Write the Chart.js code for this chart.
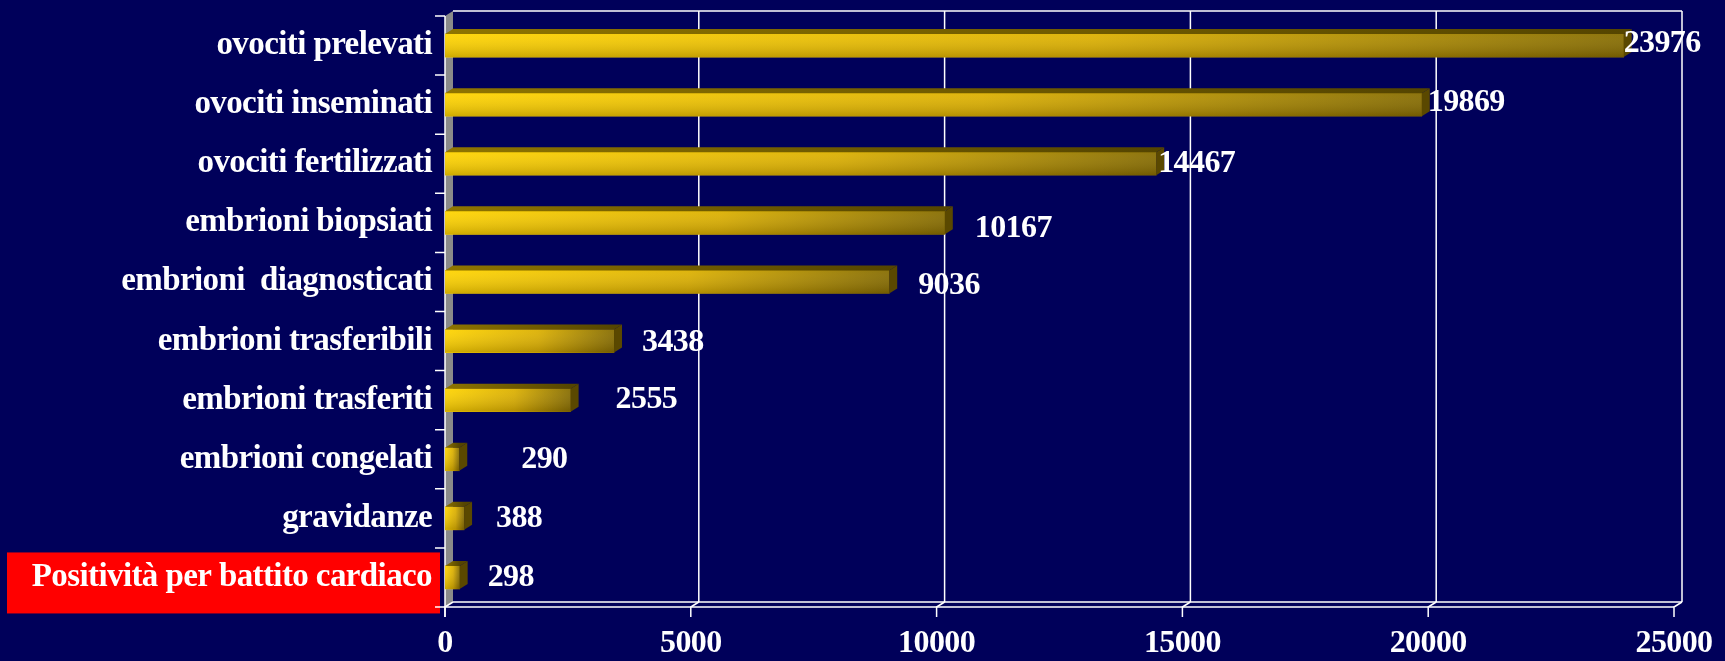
<!DOCTYPE html>
<html>
<head>
<meta charset="utf-8">
<script src="https://cdn.jsdelivr.net/npm/chart.js@4/dist/chart.umd.min.js"></script>
<style>
    html, body { margin: 0; padding: 0; background: #00005a; }
    #wrap { width: 1725px; height: 661px; }
</style>
</head>
<body>
<div id="wrap"><canvas id="myChart" width="1725" height="661"></canvas></div>
<script>
const categories = [
    "ovociti prelevati",
    "ovociti inseminati",
    "ovociti fertilizzati",
    "embrioni biopsiati",
    "embrioni  diagnosticati",
    "embrioni trasferibili",
    "embrioni trasferiti",
    "embrioni congelati",
    "gravidanze",
    "Positività per battito cardiaco"
];
const values = [23976, 19869, 14467, 10167, 9036, 3438, 2555, 290, 388, 298];
const xTicks = [0, 5000, 10000, 15000, 20000, 25000];
const highlighted = "Positività per battito cardiaco";

// where the value labels sit, in px from the end of each bar (as placed in the slide)
const labelGap = [0, 6, 2, 30, 29, 28, 45, 62, 32, 28];
const labelShift = [-2, -2, 0, 6, 4, 2, 0, 0, 0, 0];

const depthX = 8, depthY = 5;
const serif = "'Liberation Serif', 'Times New Roman', serif";
const bg = "#00005a";

const frame3d = {
    id: 'frame3d',
    beforeDraw(chart) {
        const { ctx, width, height } = chart;
        const ys = chart.scales.y;
        ctx.save();
        ctx.fillStyle = bg;
        ctx.fillRect(0, 0, width, height);
        // red box behind the last category
        const i = categories.indexOf(highlighted);
        if (i >= 0) {
            const yc = ys.getPixelForValue(i);
            ctx.fillStyle = '#ff0000';
            ctx.fillRect(7, yc - 25, 433, 61);
        }
        ctx.restore();
        // the slide text is set tight
        ctx.letterSpacing = '-0.6px';
    },
    beforeDatasetsDraw(chart) {
        const { ctx, chartArea: a } = chart;
        const xs = chart.scales.x;
        ctx.save();
        // left wall
        ctx.fillStyle = '#8a8a8a';
        ctx.beginPath();
        ctx.moveTo(a.left, a.top);
        ctx.lineTo(a.left + depthX, a.top - depthY);
        ctx.lineTo(a.left + depthX, a.bottom - depthY);
        ctx.lineTo(a.left, a.bottom);
        ctx.closePath();
        ctx.fill();

        ctx.strokeStyle = '#ffffff';
        ctx.lineWidth = 1.5;
        // back wall top border
        ctx.beginPath();
        ctx.moveTo(a.left + depthX, a.top - depthY);
        ctx.lineTo(a.right + depthX, a.top - depthY);
        ctx.stroke();
        // back floor line and front axis line
        ctx.beginPath();
        ctx.moveTo(a.left + depthX, a.bottom - depthY);
        ctx.lineTo(a.right + depthX, a.bottom - depthY);
        ctx.moveTo(a.left, a.bottom);
        ctx.lineTo(a.right, a.bottom);
        ctx.stroke();
        // grid lines on the back wall, connectors and ticks
        xTicks.forEach(v => {
            const x = xs.getPixelForValue(v);
            ctx.beginPath();
            if (v > 0) {
                ctx.moveTo(x + depthX, a.top - depthY);
                ctx.lineTo(x + depthX, a.bottom - depthY);
            }
            ctx.moveTo(x + depthX, a.bottom - depthY);
            ctx.lineTo(x, a.bottom);
            ctx.lineTo(x, a.bottom + 10);
            ctx.stroke();
        });
        // front vertical axis with category ticks
        ctx.beginPath();
        ctx.moveTo(a.left, a.top);
        ctx.lineTo(a.left, a.bottom + 10);
        const n = categories.length;
        for (let k = 0; k <= n; k++) {
            const y = a.top + (a.bottom - a.top) * k / n;
            ctx.moveTo(a.left - 10, y);
            ctx.lineTo(a.left, y);
        }
        ctx.stroke();
        ctx.restore();
    },
    afterDatasetsDraw(chart) {
        const { ctx } = chart;
        const meta = chart.getDatasetMeta(0);
        ctx.save();
        meta.data.forEach((bar, i) => {
            const { x, y, base, height } = bar.getProps(['x', 'y', 'base', 'height'], true);
            const top = y - height / 2, bot = y + height / 2;
            // shading on the front face
            const sh = ctx.createLinearGradient(0, top, 0, bot);
            sh.addColorStop(0, 'rgba(255,255,255,0.06)');
            sh.addColorStop(1, 'rgba(40,25,0,0.22)');
            ctx.fillStyle = sh;
            ctx.fillRect(base, top, x - base, height);
            // top face
            const tg = ctx.createLinearGradient(base, 0, x, 0);
            tg.addColorStop(0, '#8e7400');
            tg.addColorStop(1, '#554500');
            ctx.fillStyle = tg;
            ctx.beginPath();
            ctx.moveTo(base, top);
            ctx.lineTo(base + depthX, top - depthY);
            ctx.lineTo(x + depthX, top - depthY);
            ctx.lineTo(x, top);
            ctx.closePath();
            ctx.fill();
            // side face
            ctx.fillStyle = '#5a4800';
            ctx.beginPath();
            ctx.moveTo(x, top);
            ctx.lineTo(x + depthX, top - depthY);
            ctx.lineTo(x + depthX, bot - depthY);
            ctx.lineTo(x, bot);
            ctx.closePath();
            ctx.fill();
            // value label
            ctx.fillStyle = '#ffffff';
            ctx.font = "bold 32px " + serif;
            ctx.textAlign = 'left';
            ctx.textBaseline = 'middle';
            ctx.fillText(String(values[i]), x + labelGap[i], y + labelShift[i]);
        });
        ctx.restore();
    }
};

const ctx = document.getElementById('myChart');

new Chart(ctx, {
    type: 'bar',
    data: {
        labels: categories,
        datasets: [{
            data: values,
            barThickness: 23,
            borderWidth: 0,
            backgroundColor: (c) => {
                const chart = c.chart;
                if (!chart.chartArea || c.dataIndex === undefined) return '#e0b400';
                const xs = chart.scales.x;
                const x0 = xs.getPixelForValue(0);
                const x1 = xs.getPixelForValue(values[c.dataIndex]);
                const g = chart.ctx.createLinearGradient(x0, 0, Math.max(x1, x0 + 1), 0);
                g.addColorStop(0, '#ffd400');
                g.addColorStop(0.55, '#dcb000');
                g.addColorStop(1, '#866c00');
                return g;
            }
        }]
    },
    options: {
        indexAxis: 'y',
        responsive: false,
        animation: false,
        devicePixelRatio: 1,
        layout: { padding: { top: 16, right: 51, left: 0, bottom: 0 } },
        plugins: {
            legend: { display: false },
            tooltip: { enabled: false }
        },
        scales: {
            x: {
                type: 'linear',
                min: 0,
                max: 25000,
                afterBuildTicks: (s) => { s.ticks = xTicks.map(v => ({ value: v })); },
                afterFit: (s) => { s.height = 54; s.paddingLeft = 0; s.paddingRight = 0; },
                grid: { display: false, drawTicks: false },
                border: { display: false },
                ticks: {
                    color: '#ffffff',
                    padding: 18,
                    maxRotation: 0,
                    autoSkip: false,
                    callback: (v) => String(v),
                    font: { family: serif, size: 32, weight: 'bold' }
                }
            },
            y: {
                afterFit: (s) => { s.width = 445; s.paddingTop = 0; s.paddingBottom = 0; },
                grid: { display: false, drawTicks: false },
                border: { display: false },
                ticks: {
                    color: '#ffffff',
                    padding: 13,
                    autoSkip: false,
                    font: { family: serif, size: 33, weight: 'bold' }
                }
            }
        }
    },
    plugins: [frame3d]
});
</script>
</body>
</html>
